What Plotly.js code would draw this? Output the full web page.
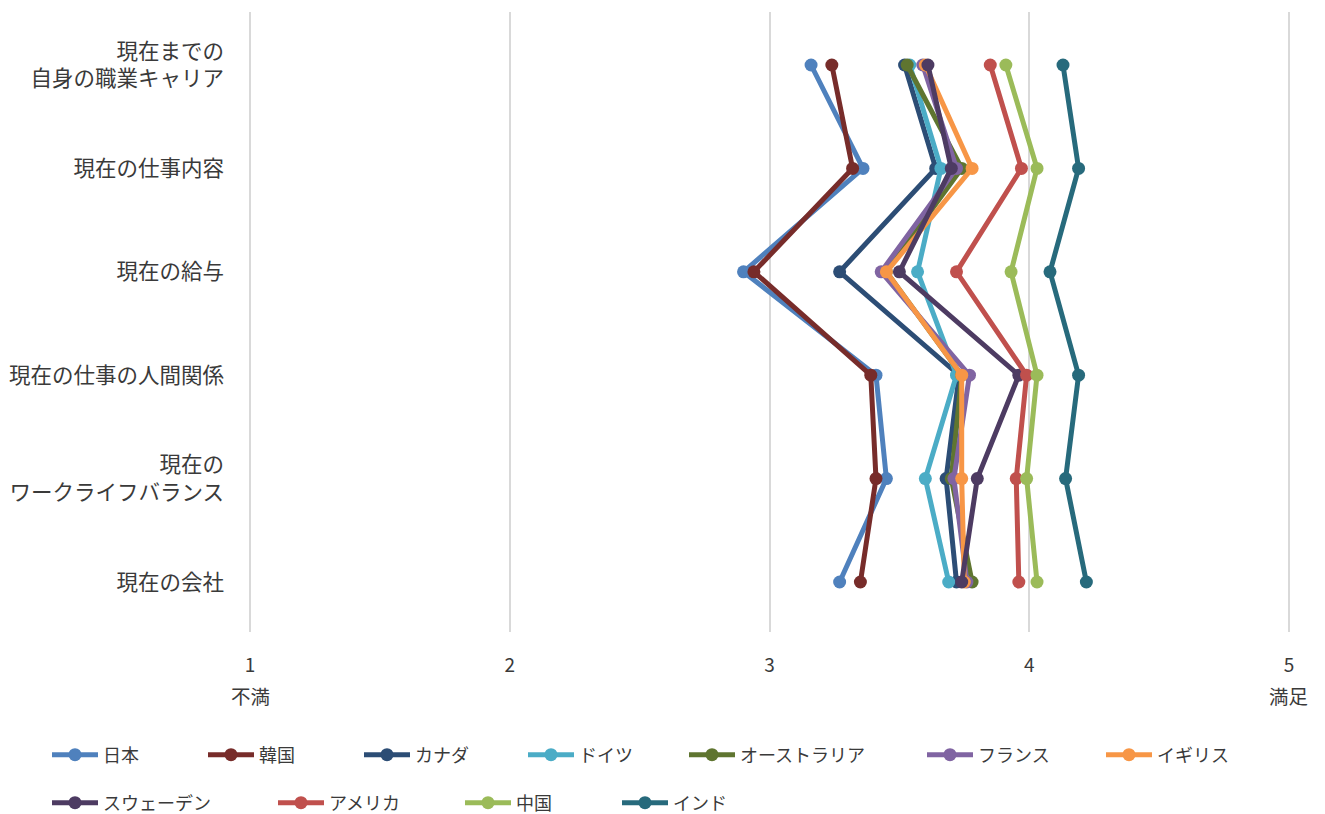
<!DOCTYPE html>
<html><head><meta charset="utf-8">
<script src="https://cdn.plot.ly/plotly-3.0.1.min.js"></script>
<style>html,body{margin:0;padding:0;background:#fff}#chart{width:1325px;height:814px}</style>
</head><body><div id="chart"></div>
<script>
const categories = ["現在までの<br>自身の職業キャリア","現在の仕事内容","現在の給与","現在の仕事の人間関係","現在の<br>ワークライフバランス","現在の会社"];
const countries = ["日本","韓国","カナダ","ドイツ","オーストラリア","フランス","イギリス","スウェーデン","アメリカ","中国","インド"];
const japan     = [3.16,3.36,2.90,3.41,3.45,3.27];
const korea     = [3.24,3.32,2.94,3.39,3.41,3.35];
const canada    = [3.52,3.64,3.27,3.73,3.68,3.72];
const germany   = [3.54,3.66,3.57,3.72,3.60,3.69];
const australia = [3.53,3.74,3.45,3.74,3.70,3.78];
const france    = [3.59,3.72,3.43,3.77,3.71,3.76];
const uk        = [3.60,3.78,3.45,3.74,3.74,3.75];
const sweden    = [3.61,3.70,3.50,3.96,3.80,3.74];
const usa       = [3.85,3.97,3.72,3.99,3.95,3.96];
const china     = [3.91,4.03,3.93,4.03,3.99,4.03];
const india     = [4.13,4.19,4.08,4.19,4.14,4.22];
const seriesValues = [japan,korea,canada,germany,australia,france,uk,sweden,usa,china,india];
const colors = ["#4F81BD","#772C2A","#2C4D75","#4BACC6","#5F7530","#8064A2","#F79646","#4D3B62","#C0504D","#9BBB59","#276A7C"];
const xTickVals = [1,2,3,4,5];
const xTickText = ["1","2","3","4","5"];
const endLabels = ["不満","満足"];

// legend positions in px (line start x, row center y)
const legendPx = [[52,755],[208,755],[364,755],[528,755],[689,755],[927,755],[1106,755],
                  [52,803],[278,803],[465,803],[622,803]];
const L = 249, R = 1290, T = 12, B = 632;
const font = "'Noto Sans CJK JP', 'Noto Sans', sans-serif";
const txt = "#3a3a3a";

const traces = countries.map((name,i)=>({
  type:'scatter', mode:'lines+markers', name:name,
  x: seriesValues[i], y: categories,
  line:{color:colors[i], width:5},
  marker:{color:colors[i], size:13},
  legend: i===0 ? 'legend' : 'legend'+(i+1),
  hoverinfo:'x+name'
}));

const layout = {
  width:1325, height:814,
  margin:{l:L, r:1325-R, t:T, b:814-B, autoexpand:false},
  paper_bgcolor:'#fff', plot_bgcolor:'#fff',
  font:{family:font, color:txt, size:17},
  showlegend:true,
  xaxis:{range:[0.996,5.004], tickvals:xTickVals, ticktext:xTickText, showgrid:true, gridcolor:'#d9d9d9', gridwidth:2,
         zeroline:false, showline:false, ticks:'', ticklabelstandoff:20, tickfont:{size:19, color:txt}, fixedrange:true},
  yaxis:{type:'category', categoryorder:'array', categoryarray:categories, range:[5.4835,-0.5126], showgrid:false,
         zeroline:false, showline:false, ticks:'', ticklabelstandoff:24, tickfont:{size:21.5, color:txt}, fixedrange:true},
  annotations:[
    {xref:'x', yref:'paper', x:1, y:(B-695)/(B-T), text:endLabels[0], showarrow:false, font:{size:19.5,color:txt}, xanchor:'center', yanchor:'middle'},
    {xref:'x', yref:'paper', x:5, y:(B-695)/(B-T), text:endLabels[1], showarrow:false, font:{size:19.5,color:txt}, xanchor:'center', yanchor:'middle'}
  ]
};
legendPx.forEach((p,i)=>{
  const key = i===0 ? 'legend' : 'legend'+(i+1);
  layout[key] = {x:(p[0]-5-L)/(R-L), y:(B-p[1])/(B-T), xanchor:'left', yanchor:'middle', orientation:'h',
                 bgcolor:'rgba(0,0,0,0)', font:{size:18, color:txt, family:font}, itemwidth:46};
});
Plotly.newPlot('chart', traces, layout, {displayModeBar:false, staticPlot:true});
</script></body></html>
